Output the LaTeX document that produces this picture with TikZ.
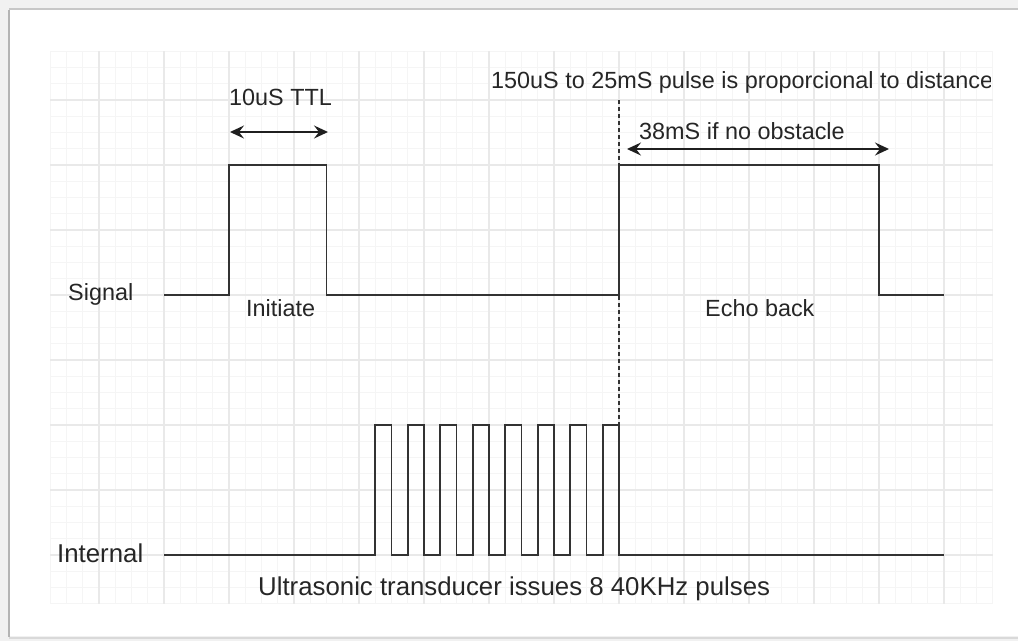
\documentclass[tikz,border=0pt]{standalone}
\usepackage{fontspec}
\setmainfont{Liberation Sans}
\usetikzlibrary{arrows.meta}
\definecolor{ink}{HTML}{262626}
\definecolor{wavec}{HTML}{333333}
\definecolor{gridminor}{HTML}{F5F5F5}
\definecolor{gridmajor}{HTML}{E9E9E9}
\definecolor{outerbg}{HTML}{F1F1F1}
\definecolor{shadowc}{HTML}{B4B4B4}
\tikzset{
  wave/.style={draw=wavec, line width=1.9, line join=miter},
  minorline/.style={draw=gridminor, line width=0.9},
  majorline/.style={draw=gridmajor, line width=1.1},
  dim/.style={draw=black!88, line width=1.7,
    {Stealth[length=14,width=13,inset=5]}-{Stealth[length=14,width=13,inset=5]}},
  lbl/.style={text=ink, inner sep=0, anchor=base west, font=\fontsize{23.4}{28}\selectfont},
  lblbig/.style={lbl, font=\fontsize{25.8}{30}\selectfont},
  marker/.style={draw=wavec, line width=1.4, dash pattern=on 3.5 off 3.5}
}
\begin{document}
\begin{tikzpicture}[x=1pt,y=-1pt]
\useasboundingbox (0,0) rectangle (1018,641);
% page frame
\fill[outerbg] (0,0) rectangle (1018,641);
\fill[white] (10,10) rectangle (1018,636);
\draw[shadowc, line width=2] (9,10) -- (9,637);
\draw[black!22, line width=1.5] (9,9) -- (1018,9);
\draw[black!15, line width=2] (9,637.5) -- (1018,637.5);
% grid
\foreach \i in {0,...,58}
  \draw[minorline] ({50.25+16.25*\i},51.25) -- ++(0,552.5);
\foreach \j in {0,...,34}
  \draw[minorline] (50.25,{51.25+16.25*\j}) -- ++(942.5,0);
\foreach \i in {3,7,...,55}
  \draw[majorline] ({50.25+16.25*\i},51.25) -- ++(0,552.5);
\foreach \j in {3,7,...,31}
  \draw[majorline] (50.25,{51.25+16.25*\j}) -- ++(942.5,0);
% named points
\coordinate (s0) at (164,295);
\coordinate (i0) at (164,555);
\coordinate (dtop) at (619,100);
\coordinate (dbot) at (619,425);
\coordinate (a1) at (230,132);
\coordinate (a2) at (328,132);
\coordinate (b1) at (627,149);
\coordinate (b2) at (889,149);
% signal waveform
\draw[wave] (s0) -- ++(65,0) -- ++(0,-130) -- ++(97.5,0) -- ++(0,130)
  -- (619,295) -- ++(0,-130) -- ++(260,0) -- ++(0,130) -- (944,295);
% internal waveform
\draw[wave] (i0) -- ++(211.25,0)
  \foreach \k in {1,...,8} { -- ++(0,-130) -- ++(16.25,0) -- ++(0,130) -- ++(16.25,0) }
  -- (944,555);
% marker
\draw[marker] (dtop) -- (dbot);
% dimension arrows
\draw[dim] (a1) -- (a2);
\draw[dim] (b1) -- (b2);
% labels
\node[lbl] (sig) at (68,300.5) {Signal};
\node[lbl] (ini) at (246,316.5) {Initiate};
\node[lbl] (ttl) at (229,105) {10uS TTL};
\begin{scope}
\clip (0,0) rectangle (990,641);
\node[lbl] (prop) at (491,88) {150uS to 25mS pulse is proporcional to distance};
\end{scope}
\node[lbl] (obs) at (639,139) {38mS if no obstacle};
\node[lbl] (echo) at (705,316.5) {Echo back};
\node[lblbig] (int) at (57,562.5) {Internal};
\node[lblbig] (ultra) at (258,595) {Ultrasonic transducer issues 8 40KHz pulses};
\end{tikzpicture}
\end{document}
